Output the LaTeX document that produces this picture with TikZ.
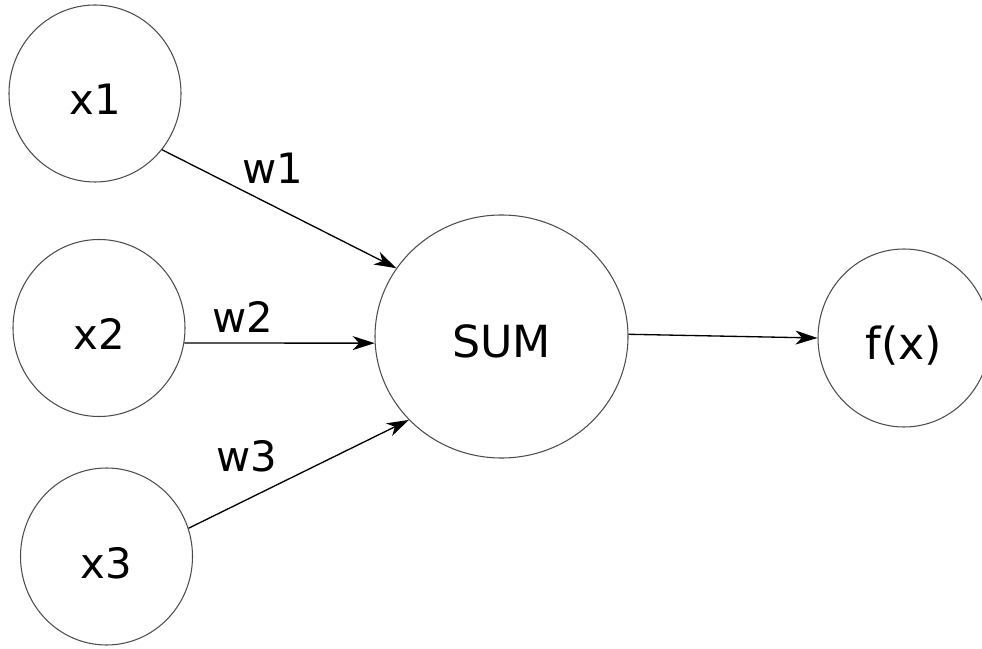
\documentclass[tikz,border=0pt]{standalone}
\usepackage{fontspec}
\setmainfont{DejaVu Sans}
\usetikzlibrary{arrows.meta}
\usetikzlibrary{shapes.geometric}

\begin{document}
\begin{tikzpicture}[
    neuron/.style={ellipse, draw=black!70, line width=0.6pt, inner sep=0pt,
        minimum width=3.44cm, minimum height=3.54cm,
        text height=0.86cm, text depth=0cm, font=\fontsize{23.8}{27}\selectfont},
    big/.style={font=\fontsize{25.2}{29}\selectfont},
    wlabel/.style={font=\fontsize{23.8}{27}\selectfont},
    arr/.style={-{Stealth[length=0.44cm, width=0.28cm, inset=0.13cm]}, line width=0.75pt}
]
    \useasboundingbox (0,0) rectangle (19.64,12.96);

    \node[neuron] (x1) at (1.90,11.09) {x1};
    \node[neuron] (x2) at (1.98,6.40) {x2};
    \node[neuron] (x3) at (2.13,1.83) {x3};
    \node[neuron, big, minimum width=5.06cm, minimum height=4.86cm] (sum) at (10.03,6.23) {SUM};
    \node[neuron, big, minimum height=3.56cm] (fx) at (18.08,6.20) {f(x)};

    \node[wlabel] (w1) at (5.46,9.60) {w1};
    \node[wlabel] (w2) at (4.85,6.63) {w2};
    \node[wlabel] (w3) at (4.94,3.84) {w3};

    \draw[arr] (x1.-40) -- (sum.147);
    \draw[arr] (x2.-10) -- (sum.183);
    \draw[arr] (x3.19) -- (sum.222);
    \draw[arr] (sum.1) -- (fx.180);
\end{tikzpicture}
\end{document}
